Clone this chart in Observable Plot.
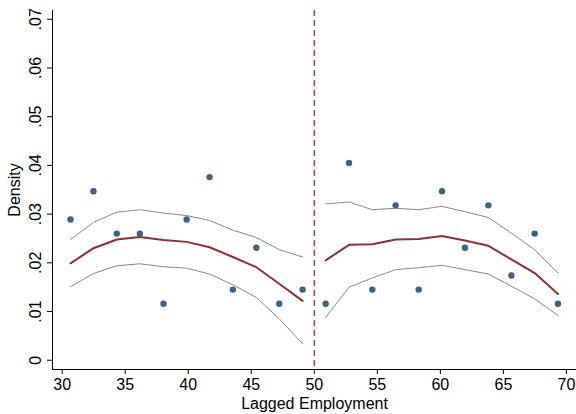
<!DOCTYPE html>
<html>
<head>
<meta charset="utf-8">
<script src="https://cdn.jsdelivr.net/npm/d3@7"></script>
<script src="https://cdn.jsdelivr.net/npm/@observablehq/plot@0.6"></script>
<style>
  html, body { margin: 0; padding: 0; background: #fff; }
  #chart { width: 576px; height: 414px; }
  svg { font-family: "Liberation Sans", Arial, Helvetica, sans-serif; }
</style>
</head>
<body>
<div id="chart"></div>
<script>
// Bin midpoints and densities (scatter)
const binX = [30.66, 32.48, 34.33, 36.16, 38.04, 39.87, 41.69, 43.54, 45.40, 47.22, 49.07,
              50.90, 52.75, 54.60, 56.45, 58.28, 60.13, 61.95, 63.81, 65.63, 67.48, 69.33];
const binDensity = [0.0289, 0.0347, 0.0260, 0.0260, 0.0116, 0.0289, 0.0376, 0.0145, 0.0231, 0.0116, 0.0145,
                    0.0116, 0.0405, 0.0145, 0.0318, 0.0145, 0.0347, 0.0231, 0.0318, 0.0174, 0.0260, 0.0116];
// Fitted density (left of cutoff, right of cutoff)
const fitLeft  = [0.0199, 0.0230, 0.0248, 0.0253, 0.0247, 0.0243, 0.0232, 0.0212, 0.0191, 0.0157, 0.0122];
const upperLeft = [0.0248, 0.0283, 0.0304, 0.0309, 0.0302, 0.0297, 0.0287, 0.0267, 0.0252, 0.0227, 0.0212];
const lowerLeft = [0.0151, 0.0178, 0.0194, 0.0198, 0.0192, 0.0189, 0.0177, 0.0155, 0.0129, 0.0085, 0.0034];
const fitRight  = [0.0205, 0.0237, 0.0238, 0.0248, 0.0249, 0.0255, 0.0246, 0.0235, 0.0207, 0.0179, 0.0136];
const upperRight = [0.0321, 0.0325, 0.0309, 0.0312, 0.0309, 0.0316, 0.0305, 0.0293, 0.0261, 0.0227, 0.0179];
const lowerRight = [0.0088, 0.0150, 0.0169, 0.0186, 0.0190, 0.0195, 0.0186, 0.0177, 0.0152, 0.0126, 0.0092];
const cutoff = [50];
const xTicks = [30, 35, 40, 45, 50, 55, 60, 65, 70];
const yTicks = [0, 0.01, 0.02, 0.03, 0.04, 0.05, 0.06, 0.07];
const xLabel = "Lagged Employment";
const yLabel = "Density";

const points = binX.map((x, i) => ({x, y: binDensity[i]}));
const leftX = binX.slice(0, 11), rightX = binX.slice(11);
const mk = (xs, ys, side) => xs.map((x, i) => ({x, y: ys[i], side}));
const fit = [...mk(leftX, fitLeft, "L"), ...mk(rightX, fitRight, "R")];
const upper = [...mk(leftX, upperLeft, "L"), ...mk(rightX, upperRight, "R")];
const lower = [...mk(leftX, lowerLeft, "L"), ...mk(rightX, lowerRight, "R")];

const fmtY = d => d === 0 ? "0" : d3.format(".2f")(d).replace(/^0/, "");

const chart = Plot.plot({
  width: 576,
  height: 414,
  marginLeft: 52,
  marginRight: 0,
  marginTop: 10,
  marginBottom: 45,
  style: {fontSize: "16px", fontFamily: "Liberation Sans, Arial, sans-serif", color: "#000", background: "#fff"},
  x: {domain: [29.23, 70.8]},
  y: {domain: [-0.0019, 0.0718]},
  marks: [
    Plot.frame({anchor: "left", stroke: "#000", strokeWidth: 1}),
    Plot.frame({anchor: "bottom", stroke: "#000", strokeWidth: 1}),
    Plot.axisY({ticks: yTicks, tickFormat: fmtY, tickSize: 5, tickRotate: -90, tickPadding: 7,
                label: yLabel, labelAnchor: "center", labelArrow: "none", labelOffset: 44, fontSize: 16}),
    Plot.axisX({ticks: xTicks, tickFormat: d3.format("d"), tickSize: 5, tickPadding: 4,
                label: xLabel, labelAnchor: "center", labelArrow: "none", labelOffset: 39, fontSize: 16}),
    Plot.ruleX(cutoff, {stroke: "#c8385a", strokeWidth: 1.5, strokeDasharray: "6,4"}),
    Plot.line(upper, {x: "x", y: "y", z: "side", stroke: "#888", strokeWidth: 1}),
    Plot.line(lower, {x: "x", y: "y", z: "side", stroke: "#888", strokeWidth: 1}),
    Plot.line(fit, {x: "x", y: "y", z: "side", stroke: "#8b2f38", strokeWidth: 2}),
    Plot.dot(points, {x: "x", y: "y", r: 3.2, fill: "#3a6384", stroke: "none"})
  ]
});
document.getElementById("chart").appendChild(chart);
</script>
</body>
</html>
